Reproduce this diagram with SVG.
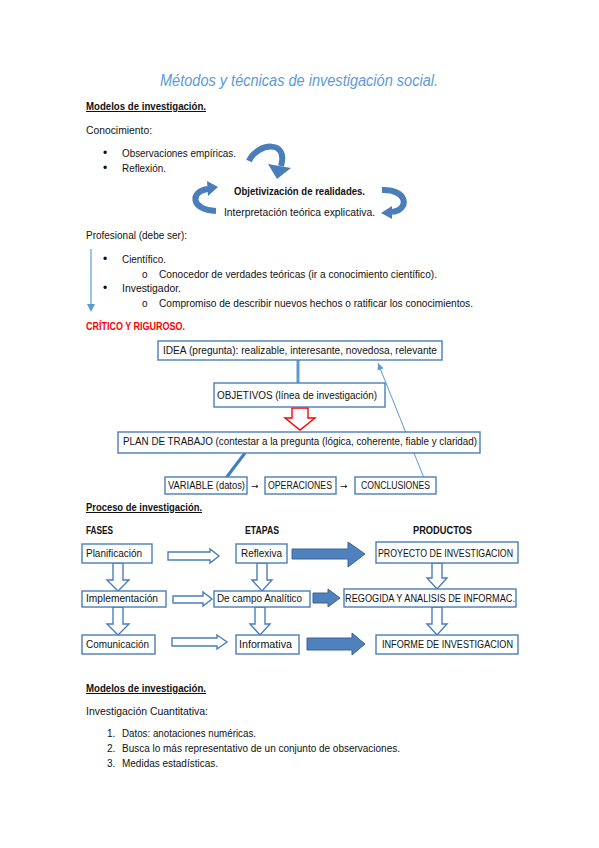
<svg xmlns="http://www.w3.org/2000/svg" width="599" height="848" viewBox="0 0 599 848">
<defs>
<style>
text{font-family:"Liberation Sans",Arial,sans-serif;font-size:10px;fill:#111}
.b{font-weight:bold}
.u{text-decoration:underline}
.bul{font-size:12px}
.box{fill:#fff;stroke:#4A7EBB;stroke-width:1.4}
.hol{fill:#fff;stroke:#4A7EBB;stroke-width:1.4;stroke-linejoin:miter}
.fil{fill:#4F81BD;stroke:#3A6597;stroke-width:1}
.curve{fill:none;stroke:#4A7EBB;stroke-width:6}
.head{fill:#4A7EBB}
</style>
<marker id="ah" markerWidth="8" markerHeight="8" refX="7" refY="4" orient="auto" markerUnits="userSpaceOnUse">
<path d="M0,0.8 L7,4 L0,7.2 Z" fill="#5B9BD5"/>
</marker>
</defs>
<rect width="599" height="848" fill="#fff"/>

<text x="160" y="86" style="font-size:16px;font-style:italic;fill:#5B9BD5" textLength="278" lengthAdjust="spacingAndGlyphs">Métodos y técnicas de investigación social.</text>

<text class="b u" x="86" y="110" textLength="120" lengthAdjust="spacingAndGlyphs">Modelos de investigación.</text>
<text x="86" y="134" textLength="66" lengthAdjust="spacingAndGlyphs">Conocimiento:</text>
<text class="bul" x="103" y="157">•</text>
<text x="122" y="157" textLength="114" lengthAdjust="spacingAndGlyphs">Observaciones empíricas.</text>
<text class="bul" x="103" y="172">•</text>
<text x="122" y="172" textLength="44" lengthAdjust="spacingAndGlyphs">Reflexión.</text>

<g id="ciclo">
<path class="curve" d="M249,161 C257,143 289,139 281,166"/>
<polygon class="head" points="268,164 291,168 277,179"/>
<path class="curve" d="M216,211 C190,210 190,191 208,189"/>
<polygon class="head" points="207,181 208,196 218,187"/>
<path class="curve" d="M382,190 C408,189 410,210 392,212"/>
<polygon class="head" points="392,206 392,219 381,213"/>
</g>
<text class="b" x="234" y="195" textLength="131" lengthAdjust="spacingAndGlyphs">Objetivización de realidades.</text>
<text x="224" y="216" textLength="151" lengthAdjust="spacingAndGlyphs">Interpretación teórica explicativa.</text>

<text x="86" y="239" textLength="101" lengthAdjust="spacingAndGlyphs">Profesional (debe ser):</text>
<g id="flecha-profesional">
<line x1="91" y1="249" x2="91" y2="305" stroke="#9DC3E6" stroke-width="2"/>
<polygon points="87,304 95,304 91,312" fill="#5B9BD5"/>
</g>
<text class="bul" x="103" y="263">•</text>
<text x="122" y="263" textLength="44" lengthAdjust="spacingAndGlyphs">Científico.</text>
<text x="142" y="278">o</text>
<text x="159" y="278" textLength="278" lengthAdjust="spacingAndGlyphs">Conocedor de verdades teóricas (ir a conocimiento científico).</text>
<text class="bul" x="103" y="292">•</text>
<text x="122" y="292" textLength="59" lengthAdjust="spacingAndGlyphs">Investigador.</text>
<text x="142" y="307">o</text>
<text x="159" y="307" textLength="314" lengthAdjust="spacingAndGlyphs">Compromiso de describir nuevos hechos o ratificar los conocimientos.</text>
<text class="b" x="86" y="330" style="fill:#FF0000" textLength="99" lengthAdjust="spacingAndGlyphs">CRÍTICO Y RIGUROSO.</text>

<g id="conectores">
<line x1="298" y1="360" x2="298" y2="383" stroke="#5B9BD5" stroke-width="3"/>
<polygon points="292,408 308,408 308,418 315,418 300,430 285,418 292,418" fill="#fff" stroke="#FF0000" stroke-width="1.4"/>
<line x1="245" y1="453" x2="226" y2="478" stroke="#3C7DC4" stroke-width="3"/>
<line x1="424" y1="478" x2="378" y2="363" stroke="#5B9BD5" stroke-width="1" marker-end="url(#ah)"/>
<polygon class="hol" points="168,552 210,552 210,549 219,556 210,563 210,560 168,560"/>
<polygon class="hol" points="173,596 203,596 203,592 212,599 203,606 203,603 173,603"/>
<polygon class="hol" points="172,638 217,638 217,635 227,642 217,649 217,646 172,646"/>
<polygon class="hol" points="113,563 123,563 123,580 129,580 118,591 107,580 113,580"/>
<polygon class="hol" points="113,607 123,607 123,624 129,624 118,635 107,624 113,624"/>
<polygon class="hol" points="257,563 267,563 267,580 272,580 262,591 252,580 257,580"/>
<polygon class="hol" points="255,607 265,607 265,624 270,624 260,635 250,624 255,624"/>
<polygon class="hol" points="432,563 442,563 442,578 447,578 437,589 427,578 432,578"/>
<polygon class="hol" points="432,607 442,607 442,624 447,624 437,635 427,624 432,624"/>
<polygon class="fil" points="292,549 348,549 348,542 365,554 348,567 348,559 292,559"/>
<polygon class="fil" points="313,593 328,593 328,589 340,598 328,607 328,603 313,603"/>
<polygon class="fil" points="307,638 352,638 352,633 365,644 352,655 352,650 307,650"/>
</g>

<g id="idea"><rect class="box" x="158" y="341" width="284" height="19"/><text x="163" y="354" textLength="274" lengthAdjust="spacingAndGlyphs">IDEA (pregunta): realizable, interesante, novedosa, relevante</text></g>
<g id="objetivos"><rect class="box" x="214" y="383" width="171" height="24"/><text x="217" y="399" textLength="160" lengthAdjust="spacingAndGlyphs">OBJETIVOS (línea de investigación)</text></g>
<g id="plan"><rect class="box" x="118" y="432" width="362" height="21"/><text x="123" y="445" textLength="354" lengthAdjust="spacingAndGlyphs">PLAN DE TRABAJO (contestar a la pregunta (lógica, coherente, fiable y claridad)</text></g>
<g id="variable"><rect class="box" x="165" y="477" width="82" height="17"/><text x="168" y="489" textLength="77" lengthAdjust="spacingAndGlyphs">VARIABLE (datos)</text></g>
<text x="251" y="489" style="font-family:'DejaVu Sans',sans-serif;font-size:9px">→</text>
<g id="operaciones"><rect class="box" x="265" y="477" width="71" height="17"/><text x="268" y="489" textLength="64" lengthAdjust="spacingAndGlyphs">OPERACIONES</text></g>
<text x="340" y="489" style="font-family:'DejaVu Sans',sans-serif;font-size:9px">→</text>
<g id="conclusiones"><rect class="box" x="355" y="477" width="81" height="17"/><text x="361" y="489" textLength="69" lengthAdjust="spacingAndGlyphs">CONCLUSIONES</text></g>

<text class="b u" x="86" y="511" textLength="116" lengthAdjust="spacingAndGlyphs">Proceso de investigación.</text>
<text class="b" x="86" y="534" textLength="27" lengthAdjust="spacingAndGlyphs">FASES</text>
<text class="b" x="245" y="534" textLength="34" lengthAdjust="spacingAndGlyphs">ETAPAS</text>
<text class="b" x="413" y="534" textLength="59" lengthAdjust="spacingAndGlyphs">PRODUCTOS</text>

<g id="planificacion"><rect class="box" x="82" y="544" width="70" height="19"/><text x="86" y="557" textLength="56" lengthAdjust="spacingAndGlyphs">Planificación</text></g>
<g id="reflexiva"><rect class="box" x="236" y="544" width="51" height="19"/><text x="241" y="557" textLength="41" lengthAdjust="spacingAndGlyphs">Reflexiva</text></g>
<g id="proyecto"><rect class="box" x="376" y="542" width="142" height="21"/><text x="378" y="557" textLength="135" lengthAdjust="spacingAndGlyphs">PROYECTO DE INVESTIGACION</text></g>
<g id="implementacion"><rect class="box" x="82" y="591" width="84" height="16"/><text x="86" y="602" textLength="72" lengthAdjust="spacingAndGlyphs">Implementación</text></g>
<g id="decampo"><rect class="box" x="214" y="591" width="96" height="16"/><text x="217" y="602" textLength="85" lengthAdjust="spacingAndGlyphs">De campo Analítico</text></g>
<g id="recogida"><rect class="box" x="344" y="589" width="172" height="18"/><text x="345" y="602" textLength="170" lengthAdjust="spacingAndGlyphs">REGOGIDA Y ANALISIS DE INFORMAC.</text></g>
<g id="comunicacion"><rect class="box" x="82" y="635" width="73" height="19"/><text x="86" y="648" textLength="63" lengthAdjust="spacingAndGlyphs">Comunicación</text></g>
<g id="informativa"><rect class="box" x="236" y="635" width="63" height="19"/><text x="239" y="648" textLength="53" lengthAdjust="spacingAndGlyphs">Informativa</text></g>
<g id="informe"><rect class="box" x="376" y="635" width="142" height="19"/><text x="382" y="648" textLength="131" lengthAdjust="spacingAndGlyphs">INFORME DE INVESTIGACION</text></g>

<text class="b u" x="86" y="692" textLength="120" lengthAdjust="spacingAndGlyphs">Modelos de investigación.</text>
<text x="86" y="715" textLength="122" lengthAdjust="spacingAndGlyphs">Investigación Cuantitativa:</text>
<text x="107" y="737">1.</text>
<text x="122" y="737" textLength="134" lengthAdjust="spacingAndGlyphs">Datos: anotaciones numéricas.</text>
<text x="107" y="752">2.</text>
<text x="122" y="752" textLength="278" lengthAdjust="spacingAndGlyphs">Busca lo más representativo de un conjunto de observaciones.</text>
<text x="107" y="767">3.</text>
<text x="122" y="767" textLength="96" lengthAdjust="spacingAndGlyphs">Medidas estadísticas.</text>
</svg>
